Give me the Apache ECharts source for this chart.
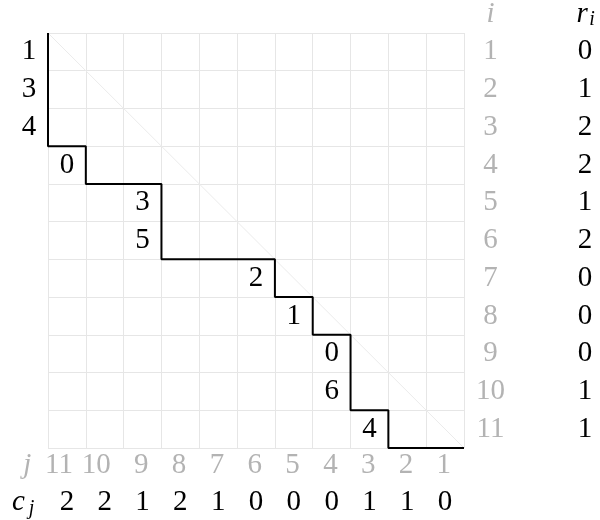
<!DOCTYPE html>
<html><head><meta charset="utf-8">
<script src="https://cdn.jsdelivr.net/npm/echarts@6/dist/echarts.min.js"></script>
<style>html,body{margin:0;padding:0;background:#fff}#c{width:600px;height:520px}
#fl{position:absolute;left:-9999px;top:0;font-family:"Liberation Serif";font-size:29px}
#fl i{font-style:italic}</style>
</head><body><div id="c"></div><span id="fl">0123456789 <i>ircj</i></span>
<script>
// Row indices i and row values r_i
const rowIndex = [1,2,3,4,5,6,7,8,9,10,11];
const rowValues = [0,1,2,2,1,2,0,0,0,1,1];
// Column indices j and column values c_j
const colIndex = [11,10,9,8,7,6,5,4,3,2,1];
const colValues = [2,2,1,2,1,0,0,0,1,1,0];
// Staircase path vertices (column boundary, row boundary)
const stairX = [0,0,1,1,3,3,6,6,7,7,8,8,9,9,11];
const stairY = [0,3,3,4,4,6,6,7,7,8,8,10,10,11,11];
// Cell entries: column, row, label
const cellCol = [-1,-1,-1,0,2,2,5,6,7,7,8];
const cellRow = [0,1,2,3,4,5,6,7,8,9,10];
const cellText = ['1','3','4','0','3','5','2','1','0','6','4'];

const N = 11;
const FAM = '"Liberation Serif", serif';
const GRAY = '#b3b3b3';
const FS = 29;

const stairData = stairX.map((x,k)=>[x, stairY[k]]);

const chart = echarts.init(document.getElementById('c'), null, {renderer:'canvas'});
function baseOption(){
  return {
    animation:false,
    textStyle:{fontFamily:FAM},
    grid:{left:48, top:33, width:416, height:415},
    xAxis:{type:'value', min:0, max:N, interval:1, axisLine:{show:false}, axisTick:{show:false},
      axisLabel:{show:false}, splitLine:{show:true, lineStyle:{color:'#e6e6e6', width:1}}},
    yAxis:{type:'value', min:0, max:N, interval:1, inverse:true, axisLine:{show:false}, axisTick:{show:false},
      axisLabel:{show:false}, splitLine:{show:true, lineStyle:{color:'#e6e6e6', width:1}}},
    series:[
      {type:'line', data:[[0,0],[N,N]], symbol:'none', silent:true, lineStyle:{color:'#ebebeb', width:1}},
      {type:'line', data:stairData, symbol:'none', silent:true, clip:false, lineStyle:{color:'#000', width:2}}
    ]
  };
}
chart.setOption(baseOption());

const mctx = document.createElement('canvas').getContext('2d');
function px(x,y){ return chart.convertToPixel({gridIndex:0}, [x,y]); }
function txt(x, y, s, color, opt){
  opt = opt || {};
  const fs = opt.fs || FS;
  const font = (opt.italic ? 'italic ' : '') + fs + 'px ' + FAM;
  mctx.font = font;
  const w = mctx.measureText(s).width;
  const p = px(x, y);
  const cx = p[0] + (opt.dx || 0);
  const cy = p[1] + (opt.dy || 0);
  const left = opt.align === 'right' ? cx - w : cx - w / 2;
  return {type:'text', silent:true, left:left, top:cy - fs / 2,
    style:{text:s, fill:color, fontFamily:FAM, fontSize:fs,
      fontStyle:opt.italic ? 'italic' : 'normal', font:font,
      textAlign:'left', textVerticalAlign:'top', align:'left', verticalAlign:'top'}};
}

function buildGraphics(){
  const g = [];
  cellCol.forEach((c,k)=>g.push(txt(c+0.5, cellRow[k]+0.5, cellText[k], '#000')));
  rowIndex.forEach((v,k)=>g.push(txt(11.7, k+0.5, String(v), GRAY)));
  rowValues.forEach((v,k)=>g.push(txt(14.2, k+0.5, String(v), '#000')));
  colIndex.forEach((v,k)=>g.push(txt(k+0.5, 11.45, String(v), GRAY, {align:'right', dx:6})));
  colValues.forEach((v,k)=>g.push(txt(k+0.5, 12.45, String(v), '#000')));
  g.push(txt(11.7, -0.5, 'i', GRAY, {italic:true}));
  g.push(txt(14.2, -0.5, 'r', '#000', {italic:true, dx:-3}));
  g.push(txt(14.2, -0.5, 'i', '#000', {italic:true, fs:20, dx:7, dy:6}));
  g.push(txt(-0.55, 11.45, 'j', GRAY, {italic:true}));
  g.push(txt(-0.7, 12.45, 'c', '#000', {italic:true, dx:-3}));
  g.push(txt(-0.7, 12.45, 'j', '#000', {italic:true, fs:20, dx:10, dy:6}));
  return g;
}

function render(){
  const opt = baseOption();
  opt.graphic = buildGraphics();
  chart.setOption(opt, {notMerge:true});
}
render();
if (document.fonts && document.fonts.load) {
  Promise.all([
    document.fonts.load('29px "Liberation Serif"', '0123456789'),
    document.fonts.load('italic 29px "Liberation Serif"', 'ircj'),
    document.fonts.load('italic 20px "Liberation Serif"', 'ij')
  ]).then(render, render);
}
setTimeout(render, 150);
setTimeout(render, 500);
</script></body></html>
